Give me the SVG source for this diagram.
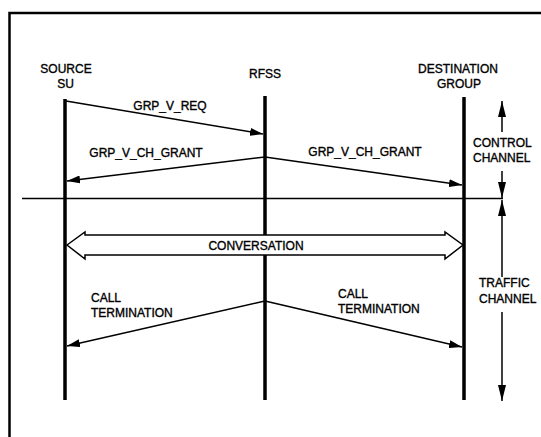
<svg xmlns="http://www.w3.org/2000/svg" width="541" height="437" viewBox="0 0 541 437">
<style>
  text { font-family: "Liberation Sans", Arial, sans-serif; font-size: 12px; fill: #000; stroke: #000; stroke-width: 0.35; }
  .mid { text-anchor: middle; }
  .life { stroke: #000; stroke-width: 3.5; fill: none; }
  .msg { stroke: #000; stroke-width: 1.5; fill: none; marker-end: url(#ah); }
  .vert { stroke: #000; stroke-width: 1.5; fill: none; marker-end: url(#vh); }
</style>
<defs>
  <marker id="ah" markerUnits="userSpaceOnUse" viewBox="0 0 13 8" refX="13" refY="4" markerWidth="13" markerHeight="8" orient="auto">
    <path d="M0,0 L13,4 L0,8 z" fill="#000"/>
  </marker>
  <marker id="vh" markerUnits="userSpaceOnUse" viewBox="0 0 16 8" refX="16" refY="4" markerWidth="16" markerHeight="8" orient="auto">
    <path d="M0,0 L16,4 L0,8 z" fill="#000"/>
  </marker>
</defs>
<rect width="541" height="437" fill="#fff"/>
<path d="M9.5,437 V13 H541" fill="none" stroke="#000" stroke-width="2.5"/>

<g id="source-su">
  <text class="mid" x="66" y="73">SOURCE</text>
  <text class="mid" x="65.5" y="88">SU</text>
  <line class="life" x1="65" y1="99" x2="65" y2="400"/>
</g>
<g id="rfss">
  <text class="mid" x="265" y="78">RFSS</text>
  <line class="life" x1="265" y1="96" x2="265" y2="400"/>
</g>
<g id="destination-group">
  <text class="mid" x="458" y="73">DESTINATION</text>
  <text class="mid" x="459" y="88">GROUP</text>
  <line class="life" x1="464" y1="97" x2="464" y2="400"/>
</g>

<line id="divider" x1="22" y1="198.5" x2="503" y2="198.5" stroke="#000" stroke-width="1.5"/>

<g id="connectors">
  <line class="msg" x1="66" y1="101" x2="263" y2="134"/>
  <line class="msg" x1="265" y1="157" x2="67" y2="181"/>
  <line class="msg" x1="265" y1="157" x2="462" y2="185"/>
  <line class="msg" x1="265" y1="301" x2="67" y2="346"/>
  <line class="msg" x1="265" y1="301" x2="462" y2="347"/>
  <line class="vert" x1="502" y1="132" x2="502" y2="101"/>
  <line class="vert" x1="502" y1="171" x2="502" y2="198"/>
  <line class="vert" x1="502" y1="277" x2="502" y2="200"/>
  <line class="vert" x1="502" y1="312" x2="502" y2="401"/>
</g>

<g id="conversation">
  <path d="M67,245 L85,232 L85,235 L445,235 L445,232 L463,245 L445,259 L445,255 L85,255 L85,259 Z" fill="#fff" stroke="#000" stroke-width="1.5" stroke-linejoin="miter"/>
  <text class="mid" x="256" y="250">CONVERSATION</text>
</g>

<g id="labels">
  <text class="mid" x="170" y="110">GRP_V_REQ</text>
  <text class="mid" x="146" y="157">GRP_V_CH_GRANT</text>
  <text class="mid" x="365" y="156">GRP_V_CH_GRANT</text>
  <text x="91" y="302">CALL</text>
  <text x="91" y="317">TERMINATION</text>
  <text x="338" y="298">CALL</text>
  <text x="338" y="313">TERMINATION</text>
  <text x="473" y="147">CONTROL</text>
  <text x="473" y="162">CHANNEL</text>
  <text x="479" y="287">TRAFFIC</text>
  <text x="479" y="303">CHANNEL</text>
</g>
</svg>
